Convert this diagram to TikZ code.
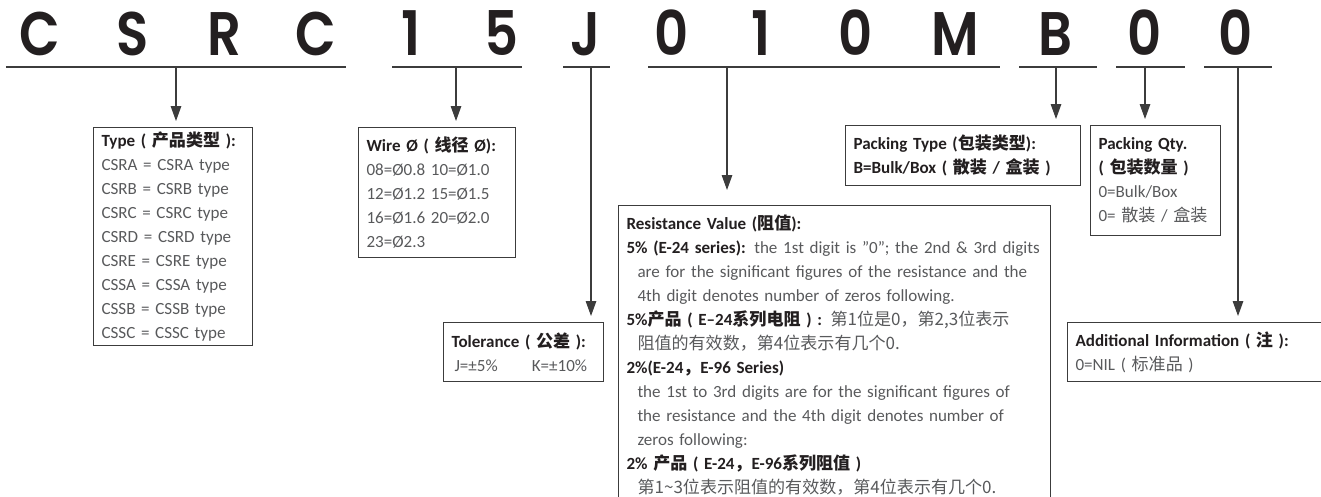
\documentclass[tikz,border=0pt]{standalone}
\usepackage{fontspec}
\setmainfont{Carlito}
\newfontfamily\cjk{Noto Sans CJK SC}
\newfontfamily\codefont{Poppins}[UprightFont={* SemiBold}, FakeStretch=0.86]
\usepackage{xcolor}
\usetikzlibrary{arrows.meta,positioning}

\definecolor{titlec}{HTML}{231F20}
\definecolor{textc}{HTML}{58595B}
\definecolor{linec}{HTML}{3C3C3C}
\newcommand\zh[1]{{\cjk #1}}
\newcommand\hd[1]{{\bfseries\color{titlec}#1}}

\begin{document}
\begin{tikzpicture}[
  codech/.style={font=\codefont\fontsize{35}{35}\selectfont, text=titlec, anchor=base, inner sep=0pt},
  uline/.style={draw=linec, line width=1.2pt},
  infobox/.style={draw=linec, line width=0.6pt, anchor=north west, align=left, inner xsep=0.16cm, inner ysep=0.08cm, text=textc, font=\fontsize{9.7}{13.66}\selectfont},
  ptr/.style={-{Triangle[width=6pt,length=8.5pt]}, draw=linec, line width=0.6pt, shorten >=0.12cm}
]
\useasboundingbox (0,0) rectangle (26.42,-9.94);
\clip (0,0) rectangle (26.42,-9.94);

% part number
\foreach \ch/\xx [count=\i] in {C/0.80,S/2.66,R/4.48,C/6.32,1/8.22,5/10.04,J/11.72,0/13.44,1/15.22,0/17.12,M/19.10,B/21.10,0/22.90,0/24.72}
  \node[codech] (ch\i) at (\xx,-1.12) {\ch};

\draw[uline] (0.12,-1.34) -- (6.92,-1.34);
\draw[uline] (7.84,-1.34) -- (10.44,-1.34);
\draw[uline] (11.26,-1.34) -- (12.20,-1.34);
\draw[uline] (12.96,-1.34) -- (20.00,-1.34);
\draw[uline] (20.38,-1.34) -- (21.94,-1.34);
\draw[uline] (22.32,-1.34) -- (23.70,-1.34);
\draw[uline] (24.08,-1.34) -- (25.44,-1.34);

\coordinate (tType) at (3.52,-1.34);
\coordinate (tWire) at (9.12,-1.34);
\coordinate (tTol) at (11.82,-1.34);
\coordinate (tRes) at (14.54,-1.34);
\coordinate (tPack) at (21.12,-1.34);
\coordinate (tQty) at (22.90,-1.34);
\coordinate (tAdd) at (24.76,-1.34);

% boxes
\node[infobox, text width=2.86cm, minimum height=4.36cm] (type) at (1.86,-2.54)
  {\hd{Type ( \zh{产品类型} ):}\\
   CSRA = CSRA type\\ CSRB = CSRB type\\ CSRC = CSRC type\\ CSRD = CSRD type\\
   CSRE = CSRE type\\ CSSA = CSSA type\\ CSSB = CSSB type\\ CSSC = CSSC type};

\node[infobox, text width=2.82cm, minimum height=2.60cm] (wire) at (7.16,-2.54)
  {\hd{Wire Ø ( \zh{线径} Ø):}\\
   08=Ø0.8 10=Ø1.0\\ 12=Ø1.2 15=Ø1.5\\ 16=Ø1.6 20=Ø2.0\\ 23=Ø2.3};

\node[infobox, text width=2.88cm, minimum height=1.18cm] (tol) at (8.86,-6.44)
  {\hd{Tolerance ( \zh{公差} ):}\\
   \hspace*{0.06cm}J=±5\%\quad\quad K=±10\%};

\node[infobox, text width=8.32cm, minimum height=6.0cm] (res) at (12.36,-4.10)
  {\hd{Resistance Value (\zh{阻值}):}\\
   \hd{5\% (E-24 series):} the 1st digit is ”0”; the 2nd \& 3rd digits\\
   \hspace*{0.22cm}are for the significant figures of the resistance and the\\
   \hspace*{0.22cm}4th digit denotes number of zeros following.\\
   \hd{5\%\zh{产品} ( E–24\zh{系列电阻} ) :} \zh{第1位是0，第2,3位表示}\\
   \hspace*{0.22cm}\zh{阻值的有效数，第4位表示有几个0.}\\
   \hd{2\%(E-24\zh{，}E-96 Series)}\\
   \hspace*{0.22cm}the 1st to 3rd digits are for the significant figures of\\
   \hspace*{0.22cm}the resistance and the 4th digit denotes number of\\
   \hspace*{0.22cm}zeros following:\\
   \hd{2\% \zh{产品} ( E-24\zh{，}E-96\zh{系列阻值} )}\\
   \hspace*{0.22cm}\zh{第1\textasciitilde 3位表示阻值的有效数，第4位表示有几个0.}};

\node[infobox, text width=4.38cm, minimum height=1.20cm] (pack) at (16.90,-2.50)
  {\hd{Packing Type (\zh{包装类型}):}\\
   \hd{B=Bulk/Box ( \zh{散装} / \zh{盒装} )}};

\node[infobox, text width=2.28cm, minimum height=2.20cm] (qty) at (21.80,-2.50)
  {\hd{Packing Qty.}\\ \hd{( \zh{包装数量} )}\\
   0=Bulk/Box\\ 0= \zh{散装} / \zh{盒装}};

\node[infobox, text width=4.98cm, minimum height=1.18cm] (add) at (21.34,-6.44)
  {\hd{Additional Information ( \zh{注} ):}\\
   0=NIL ( \zh{标准品} )};

% pointers
\draw[ptr] (tType) -- (tType |- type.north);
\draw[ptr] (tWire) -- (tWire |- wire.north);
\draw[ptr] (tTol) -- (tTol |- tol.north);
\draw[ptr, shorten >=0.3cm] (tRes) -- (tRes |- res.north);
\draw[ptr] (tPack) -- (tPack |- pack.north);
\draw[ptr] (tQty) -- (tQty |- qty.north);
\draw[ptr] (tAdd) -- (tAdd |- add.north);
\end{tikzpicture}
\end{document}
